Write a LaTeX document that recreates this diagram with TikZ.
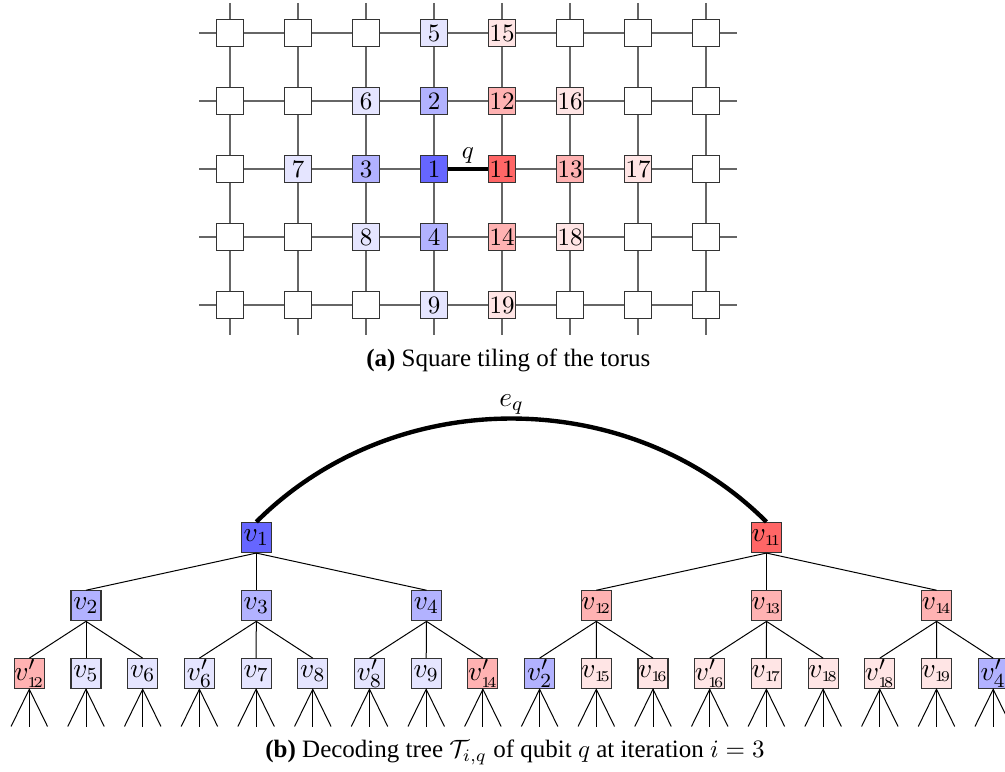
\documentclass[tikz,border=0pt]{standalone}
\usepackage[no-math]{fontspec}
\setmainfont{Liberation Serif}
\DeclareSymbolFont{operators}{OT1}{cmr}{m}{n}
\colorlet{w}{white}
\colorlet{B1}{blue!10}\colorlet{B3}{blue!30}\colorlet{B6}{blue!60}
\colorlet{R1}{red!10}\colorlet{R3}{red!30}\colorlet{R6}{red!60}
\newcommand\ts[1]{{\scriptscriptstyle #1}}
\tikzset{
  gline/.style={draw=black!60, line width=0.5pt},
  gbox/.style={draw=black!80, line width=0.45pt, minimum size=10.8pt, inner sep=0pt,
    font=\fontsize{10}{12}\selectfont},
  tbox/.style={draw=black!80, line width=0.45pt, minimum size=12pt, inner sep=0pt,
    font=\fontsize{10.95}{13}\selectfont},
  tedge/.style={draw=black, line width=0.4pt},
  thick edge/.style={draw=black, line width=1.75pt},
  captext/.style={anchor=base, font=\fontsize{10}{12}\selectfont},
}
\begin{document}
\begin{tikzpicture}[x=0.4pt, y=0.4pt]
\useasboundingbox (0,0) rectangle (1005,-772);
% ---------- grid ----------
\def\gy#1{-33-68*#1}
\foreach \lab/\col [count=\c from 0] in {/w,/w,/w,5/B1,15/R1,/w,/w,/w}
  \node[gbox, fill=\col] (g-\c-0) at ({230+68*\c},{\gy{0}}) {$\lab$};
\foreach \lab/\col [count=\c from 0] in {/w,/w,6/B1,2/B3,12/R3,16/R1,/w,/w}
  \node[gbox, fill=\col] (g-\c-1) at ({230+68*\c},{\gy{1}}) {$\lab$};
\foreach \lab/\col [count=\c from 0] in {/w,7/B1,3/B3,1/B6,11/R6,13/R3,17/R1,/w}
  \node[gbox, fill=\col] (g-\c-2) at ({230+68*\c},{\gy{2}}) {$\lab$};
\foreach \lab/\col [count=\c from 0] in {/w,/w,8/B1,4/B3,14/R3,18/R1,/w,/w}
  \node[gbox, fill=\col] (g-\c-3) at ({230+68*\c},{\gy{3}}) {$\lab$};
\foreach \lab/\col [count=\c from 0] in {/w,/w,/w,9/B1,19/R1,/w,/w,/w}
  \node[gbox, fill=\col] (g-\c-4) at ({230+68*\c},{\gy{4}}) {$\lab$};
% horizontal grid lines
\foreach \r in {0,...,4}{
  \coordinate (hl-\r) at (199,{\gy{\r}});
  \coordinate (hr-\r) at (737,{\gy{\r}});
  \draw[gline] (hl-\r) -- (g-0-\r);
  \draw[gline] (g-7-\r) -- (hr-\r);
  \foreach \c [evaluate=\c as \n using int(\c+1)] in {0,...,6}
    \draw[gline] (g-\c-\r) -- (g-\n-\r);
}
% vertical grid lines
\foreach \c in {0,...,7}{
  \coordinate (vt-\c) at ({230+68*\c},-3);
  \coordinate (vb-\c) at ({230+68*\c},-335);
  \draw[gline] (vt-\c) -- (g-\c-0);
  \draw[gline] (g-\c-4) -- (vb-\c);
  \foreach \r [evaluate=\r as \n using int(\r+1)] in {0,...,3}
    \draw[gline] (g-\c-\r) -- (g-\c-\n);
}
\draw[thick edge] (g-3-2) -- node[midway, above=0.8pt, inner sep=0.5pt, font=\fontsize{10}{12}\selectfont] (qlab) {$q$} (g-4-2);
\node[captext] (capa) at (508.3,-366.5) {\textbf{(a)} Square tiling of the torus};
% ---------- tree ----------
\node[tbox, fill=B6] (v1) at (256.3,-537.5) {$v_1$};
\node[tbox, fill=R6] (v11) at (766.5,-537.5) {$v_{\ts{1\!1}}$};
\draw[thick edge] (v1.north) to[out=45, in=135, looseness=0.98]
  node[pos=0.5, above=0.6pt, inner sep=0pt, font=\fontsize{10.95}{13}\selectfont] (eq) {$e_q$} (v11.north);
\foreach \nm/\x/\lab/\col/\pa in {
  v2/86/{$v_2$}/B3/v1, v3/256.3/{$v_3$}/B3/v1, v4/426.5/{$v_4$}/B3/v1,
  v12/596.3/{$v_{\ts{1\!2}}$}/R3/v11, v13/766.5/{$v_{\ts{1\!3}}$}/R3/v11, v14/936.6/{$v_{\ts{1\!4}}$}/R3/v11}{
  \node[tbox, fill=\col] (\nm) at (\x,-605.8) {\lab};
  \draw[tedge] (\pa.south) -- (\nm.north);
}
\foreach \k/\nm/\lab/\col/\pa in {
  0/l12/{$v'_{\ts{1\!2}}$}/R3/v2, 1/l5/{$v_5$}/B1/v2, 2/l6/{$v_6$}/B1/v2,
  3/l6p/{$v'_6$}/B1/v3, 4/l7/{$v_7$}/B1/v3, 5/l8/{$v_8$}/B1/v3,
  6/l8p/{$v'_8$}/B1/v4, 7/l9/{$v_9$}/B1/v4, 8/l14/{$v'_{\ts{1\!4}}$}/R3/v4,
  9/l2/{$v'_2$}/B3/v12, 10/l15/{$v_{\ts{1\!5}}$}/R1/v12, 11/l16/{$v_{\ts{1\!6}}$}/R1/v12,
  12/l16p/{$v'_{\ts{1\!6}}$}/R1/v13, 13/l17/{$v_{\ts{1\!7}}$}/R1/v13, 14/l18/{$v_{\ts{1\!8}}$}/R1/v13,
  15/l18p/{$v'_{\ts{1\!8}}$}/R1/v14, 16/l19/{$v_{\ts{1\!9}}$}/R1/v14, 17/l4/{$v'_4$}/B3/v14}{
  \node[tbox, fill=\col] (\nm) at ({29.3+56.7*\k},-673.7) {\lab};
  \draw[tedge] (\pa.south) -- (\nm.north);
  \coordinate (\nm-a) at ([xshift=-7.3pt, yshift=-14.9pt]\nm.south);
  \coordinate (\nm-b) at ([yshift=-14.9pt]\nm.south);
  \coordinate (\nm-c) at ([xshift=7.3pt, yshift=-14.9pt]\nm.south);
  \draw[tedge] (\nm-a) -- (\nm.south) -- (\nm-c);
  \draw[tedge] (\nm.south) -- (\nm-b);
}
\node[captext] (capb) at (515,-757.3) {\textbf{(b)} Decoding tree $\mathcal{T}_{i,q}$ of qubit $q$ at iteration $i=3$};
\end{tikzpicture}
\end{document}
